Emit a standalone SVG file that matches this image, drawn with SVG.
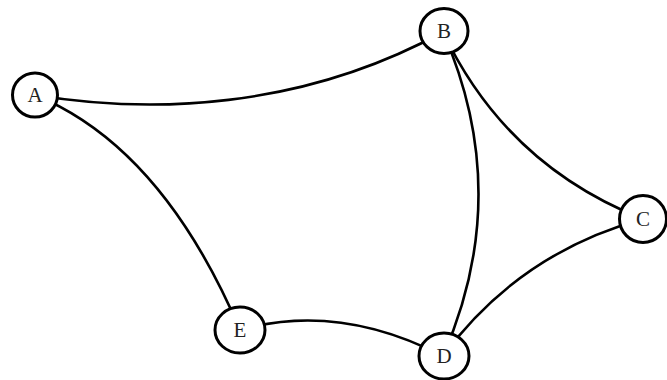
<svg xmlns="http://www.w3.org/2000/svg" width="667" height="380" viewBox="0 0 667 380">
<style>
.edge{fill:none;stroke:#000;stroke-width:2.6}
.node ellipse{fill:#fff;stroke:#000;stroke-width:3}
.node text{font-family:"Liberation Serif","DejaVu Serif",serif;font-size:21px;fill:#222;text-anchor:middle;dominant-baseline:central}
</style>
<rect width="667" height="380" fill="#fff"/>
<g id="connectors">
<path class="edge" d="M35,95 C150,114 300,110 443,32"/>
<path class="edge" d="M35,95 Q162,147 240,330"/>
<path class="edge" d="M443,32 Q506,165 643,219"/>
<path class="edge" d="M443,32 Q514,194 443,356"/>
<path class="edge" d="M643,219 Q519,253 443,356"/>
<path class="edge" d="M240,330 Q338,302 443,356"/>
</g>
<g id="node-A" class="node"><ellipse cx="35" cy="95" rx="22.5" ry="22"/><text x="35" y="95">A</text></g>
<g id="node-B" class="node"><ellipse cx="444" cy="31" rx="24" ry="22.5"/><text x="444" y="31">B</text></g>
<g id="node-C" class="node"><ellipse cx="643" cy="219" rx="23.5" ry="23.5"/><text x="643" y="219">C</text></g>
<g id="node-D" class="node"><ellipse cx="444" cy="356" rx="25" ry="23"/><text x="444" y="356">D</text></g>
<g id="node-E" class="node"><ellipse cx="240" cy="330" rx="25" ry="23"/><text x="240" y="330">E</text></g>
</svg>
